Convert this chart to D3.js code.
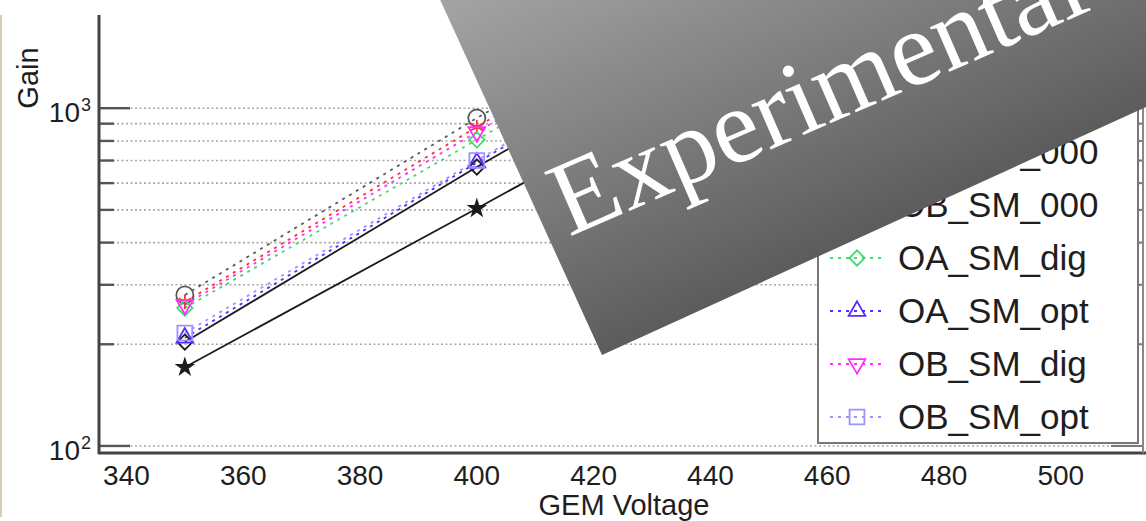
<!DOCTYPE html>
<html>
<head>
<meta charset="utf-8">
<script src="https://cdn.jsdelivr.net/npm/d3@7"></script>
<style>
  html, body { margin: 0; padding: 0; background: #fff; }
  svg { display: block; }
  .sans { font-family: "Liberation Sans", Arial, Helvetica, sans-serif; fill: #1e1e1e; }
  .ribbon-label { font-family: "Liberation Serif", "Times New Roman", serif; fill: #ffffff; }
</style>
</head>
<body>
<svg id="chart" width="1146" height="521"></svg>
<script>
// GEM gain measurements versus applied GEM voltage
const voltages = [350, 400, 450];
const seriesNames = ["OA_LM_000", "OB_LM_000", "OA_SM_000", "OB_SM_000",
                     "OA_SM_dig", "OA_SM_opt", "OB_SM_dig", "OB_SM_opt"];
const gainOA_LM_000 = [171, 505, 1500];
const gainOB_LM_000 = [203, 670, 2100];
const gainOA_SM_000 = [280, 935, 3000];
const gainOB_SM_000 = [267, 880, 2850];
const gainOA_SM_dig = [256, 806, 2600];
const gainOA_SM_opt = [209, 690, 2200];
const gainOB_SM_dig = [262, 850, 2750];
const gainOB_SM_opt = [216, 700, 2250];
const seriesValues = [gainOA_LM_000, gainOB_LM_000, gainOA_SM_000, gainOB_SM_000,
                      gainOA_SM_dig, gainOA_SM_opt, gainOB_SM_dig, gainOB_SM_opt];
const xTickValues = [340, 360, 380, 400, 420, 440, 460, 480, 500];
const yMajorTicks = [100, 1000];
const yGridValues = [100, 200, 300, 400, 500, 600, 700, 800, 900, 1000];
const bannerText = "Experimental";

// per-series styling
const styles = [
  { color: "#1c1c1c", dash: null,  marker: "star",    fill: true },
  { color: "#1c1c1c", dash: null,  marker: "diamond", fill: false },
  { color: "#5a5a5a", dash: "3,5", marker: "circle",  fill: false },
  { color: "#ff3030", dash: "3,5", marker: "asterisk",fill: false },
  { color: "#3ddc6c", dash: "3,5", marker: "diamond", fill: false },
  { color: "#5a28ff", dash: "3,5", marker: "triUp",   fill: false },
  { color: "#ff30ff", dash: "3,5", marker: "triDown", fill: false },
  { color: "#9a94ff", dash: "3,5", marker: "square",  fill: false }
];

const svg = d3.select("#chart");
const plotLeft = 99, plotRight = 1142, plotTop = 15, plotBottom = 453;

const x = d3.scaleLinear().domain([335.3, 513.9]).range([plotLeft, plotRight]);
const y = d3.scaleLog().domain([95.3, 1888]).range([plotBottom, plotTop]);

const defs = svg.append("defs");
defs.append("clipPath").attr("id", "plotClip")
  .append("rect").attr("x", plotLeft).attr("y", plotTop)
  .attr("width", plotRight - plotLeft).attr("height", plotBottom - plotTop);

// dotted horizontal grid (major and minor decades)
svg.append("g").selectAll("line").data(yGridValues).join("line")
  .attr("x1", plotLeft).attr("x2", plotRight)
  .attr("y1", d => y(d)).attr("y2", d => y(d))
  .attr("stroke", "#a8a8a8").attr("stroke-width", 1.6)
  .attr("stroke-dasharray", "2,2.5");

// y tick marks on the left axis (inward)
svg.append("g").selectAll("line").data(yGridValues).join("line")
  .attr("x1", plotLeft).attr("x2", d => plotLeft + (yMajorTicks.includes(d) ? 31 : 15))
  .attr("y1", d => y(d)).attr("y2", d => y(d))
  .attr("stroke", "#555").attr("stroke-width", 2.4);

// y tick marks on the right axis (inward)
svg.append("g").selectAll("line").data(yGridValues).join("line")
  .attr("x1", plotRight).attr("x2", d => plotRight - (yMajorTicks.includes(d) ? 31 : 15))
  .attr("y1", d => y(d)).attr("y2", d => y(d))
  .attr("stroke", "#777").attr("stroke-width", 2);

// y tick labels: 10^n
svg.append("g").selectAll("text").data(yMajorTicks).join("text")
  .attr("class", "sans")
  .attr("x", 80).attr("y", d => y(d) + 14)
  .attr("text-anchor", "end").attr("font-size", 28)
  .text("10");
svg.append("g").selectAll("text").data(yMajorTicks).join("text")
  .attr("class", "sans")
  .attr("x", 81).attr("y", d => y(d) + 3)
  .attr("font-size", 18)
  .text(d => Math.round(Math.log10(d)));

// x tick labels
svg.append("g").selectAll("text").data(xTickValues).join("text")
  .attr("class", "sans")
  .attr("x", d => x(d)).attr("y", 485)
  .attr("text-anchor", "middle").attr("font-size", 28)
  .text(d => d);

// axis titles
svg.append("text").attr("class", "sans").attr("x", 624).attr("y", 515)
  .attr("text-anchor", "middle").attr("font-size", 29).text("GEM Voltage");
svg.append("text").attr("class", "sans").attr("transform", "translate(38,78) rotate(-90)")
  .attr("text-anchor", "middle").attr("font-size", 29).text("Gain");

// data series
const line = d3.line().x((d, i) => x(voltages[i])).y(d => y(d));
const plot = svg.append("g").attr("clip-path", "url(#plotClip)");

function symbolPath(kind) {
  switch (kind) {
    case "star":     return d3.symbol(d3.symbolStar, 70)();
    case "diamond":  return d3.symbol(d3.symbolDiamond2, 150)();
    case "circle":   return d3.symbol(d3.symbolCircle, 230)();
    case "asterisk": return d3.symbol(d3.symbolAsterisk, 140)();
    case "triUp":    return d3.symbol(d3.symbolTriangle2, 200)();
    case "triDown":  return d3.symbol(d3.symbolTriangle2, 200)();
    case "square":   return d3.symbol(d3.symbolSquare2, 280)();
  }
}
function drawMarker(g, kind, st, cx, cy) {
  g.append("path").attr("d", symbolPath(kind))
    .attr("transform", `translate(${cx},${cy})` + (kind === "triDown" ? " rotate(180)" : ""))
    .attr("fill", st.fill ? st.color : "none")
    .attr("stroke", st.color).attr("stroke-width", 1.8);
}

seriesValues.forEach((vals, s) => {
  const st = styles[s];
  plot.append("path").datum(vals).attr("d", line)
    .attr("fill", "none").attr("stroke", st.color).attr("stroke-width", 1.8)
    .attr("stroke-dasharray", st.dash);
});
seriesValues.forEach((vals, s) => {
  const st = styles[s];
  vals.forEach((v, i) => drawMarker(plot, st.marker, st, x(voltages[i]), y(v)));
});

// axes box lines
svg.append("line").attr("x1", plotLeft).attr("x2", plotLeft).attr("y1", plotTop).attr("y2", plotBottom + 1)
  .attr("stroke", "#444").attr("stroke-width", 3);
svg.append("line").attr("x1", plotLeft - 1).attr("x2", 1146).attr("y1", plotBottom).attr("y2", plotBottom)
  .attr("stroke", "#444").attr("stroke-width", 3);
svg.append("line").attr("x1", plotRight + 1).attr("x2", plotRight + 1).attr("y1", plotTop).attr("y2", plotBottom)
  .attr("stroke", "#888").attr("stroke-width", 2);

// legend
const lg = svg.append("g");
lg.append("rect").attr("x", 818).attr("y", 17).attr("width", 320).attr("height", 426)
  .attr("fill", "#fff").attr("stroke", "#777").attr("stroke-width", 2);
seriesNames.forEach((name, s) => {
  const st = styles[s];
  const cy = 46 + s * 53;
  lg.append("line").attr("x1", 830).attr("x2", 885).attr("y1", cy).attr("y2", cy)
    .attr("stroke", st.color).attr("stroke-width", 1.8).attr("stroke-dasharray", st.dash);
  drawMarker(lg, st.marker, st, 857, cy);
  lg.append("text").attr("class", "sans").attr("x", 898).attr("y", cy + 12)
    .attr("font-size", 35).text(name);
});

// diagonal "Experimental" ribbon across the upper right
const grad = defs.append("linearGradient").attr("id", "ribbonGrad")
  .attr("gradientUnits", "userSpaceOnUse")
  .attr("x1", 0).attr("y1", 0).attr("x2", 0).attr("y2", -400);
grad.append("stop").attr("offset", 0).attr("stop-color", "#5c5c5c");
grad.append("stop").attr("offset", 1).attr("stop-color", "#a6a6a6");

const ribbon = svg.append("g").attr("transform", "translate(602,355) rotate(-24.5)");
ribbon.append("rect").attr("x", 0).attr("y", -700).attr("width", 1300).attr("height", 700)
  .attr("fill", "url(#ribbonGrad)");
ribbon.append("text").attr("class", "ribbon-label")
  .attr("transform", "translate(19,-121) rotate(1)")
  .attr("font-size", 106).text(bannerText);

// thin beige edge at the far left
svg.append("rect").attr("x", 0).attr("y", 15).attr("width", 2).attr("height", 502)
  .attr("fill", "#d8cfae");
</script>
</body>
</html>
